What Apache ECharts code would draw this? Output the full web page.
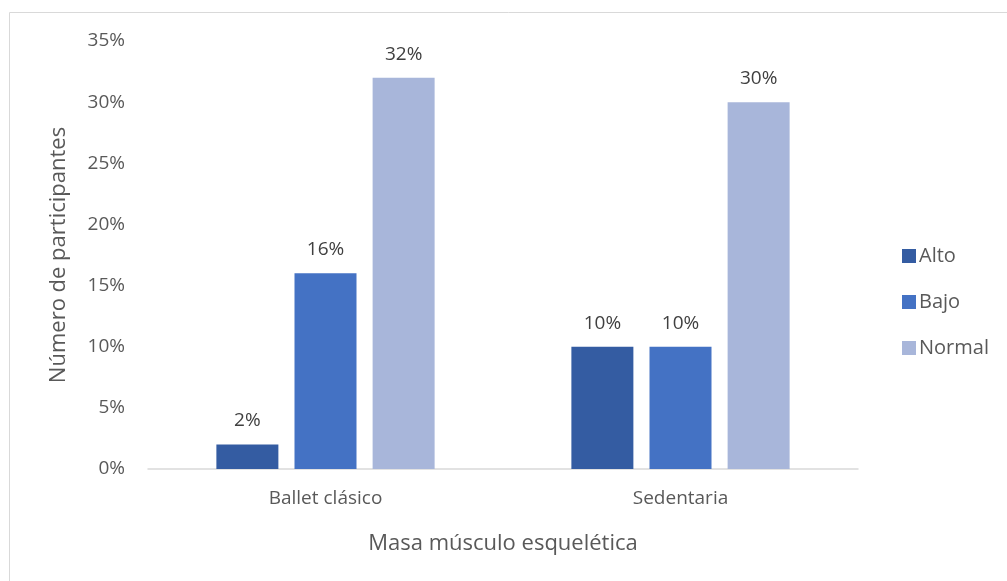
<!DOCTYPE html>
<html><head><meta charset="utf-8">
<script src="https://cdn.jsdelivr.net/npm/echarts@6/dist/echarts.min.js"></script>
<style>html,body{margin:0;padding:0;background:#fff}#c{width:1007px;height:581px}</style>
</head><body><div id="c"></div>
<script>
const categories = ['Ballet clásico', 'Sedentaria'];
const seriesNames = ['Alto', 'Bajo', 'Normal'];
const alto = [2, 10];
const bajo = [16, 10];
const normal = [32, 30];
const colors = ['#345CA2', '#4472C4', '#A8B6DA'];
const FONT = 'Open Sans';
const chart = echarts.init(document.getElementById('c'));
const mk = (name, data, color) => ({
  name, type: 'bar', data, barWidth: 62, barGap: '26%',
  itemStyle: { color },
  label: { show: true, position: 'top', distance: 14, formatter: p => p.value + '%', color: '#404040', fontSize: 19, fontFamily: FONT }
});
chart.setOption({
  animation: false,
  graphic: [{ type: 'rect', shape: { x: 9.5, y: 12.5, width: 1010, height: 600 }, style: { fill: 'none', stroke: '#d9d9d9', lineWidth: 1 }, silent: true }],
  grid: { left: 148, right: 149, top: 41, bottom: 112 },
  legend: {
    orient: 'vertical', left: 897, top: 241, itemWidth: 14, itemHeight: 14, itemGap: 26, icon: 'rect',
    textStyle: { fontSize: 20, color: '#595959', fontFamily: FONT, padding: [0, 0, 0, -2] },
    data: seriesNames
  },
  xAxis: {
    type: 'category', data: categories,
    axisLine: { lineStyle: { color: '#d9d9d9', width: 1.5 } }, axisTick: { show: false },
    axisLabel: { fontSize: 19, color: '#595959', fontFamily: FONT, margin: 20 },
    name: 'Masa músculo esquelética', nameLocation: 'middle', nameGap: 64,
    nameTextStyle: { fontSize: 22, color: '#595959', fontFamily: FONT }
  },
  yAxis: {
    type: 'value', min: 0, max: 35, interval: 5,
    axisLabel: { formatter: v => v + '%', fontSize: 19, color: '#595959', fontFamily: FONT, margin: 23 },
    splitLine: { show: false }, axisLine: { show: false }, axisTick: { show: false },
    name: 'Número de participantes', nameLocation: 'middle', nameGap: 78, nameRotate: 90,
    nameTextStyle: { fontSize: 22, color: '#595959', fontFamily: FONT }
  },
  series: [mk('Alto', alto, colors[0]), mk('Bajo', bajo, colors[1]), mk('Normal', normal, colors[2])]
});
</script></body></html>
